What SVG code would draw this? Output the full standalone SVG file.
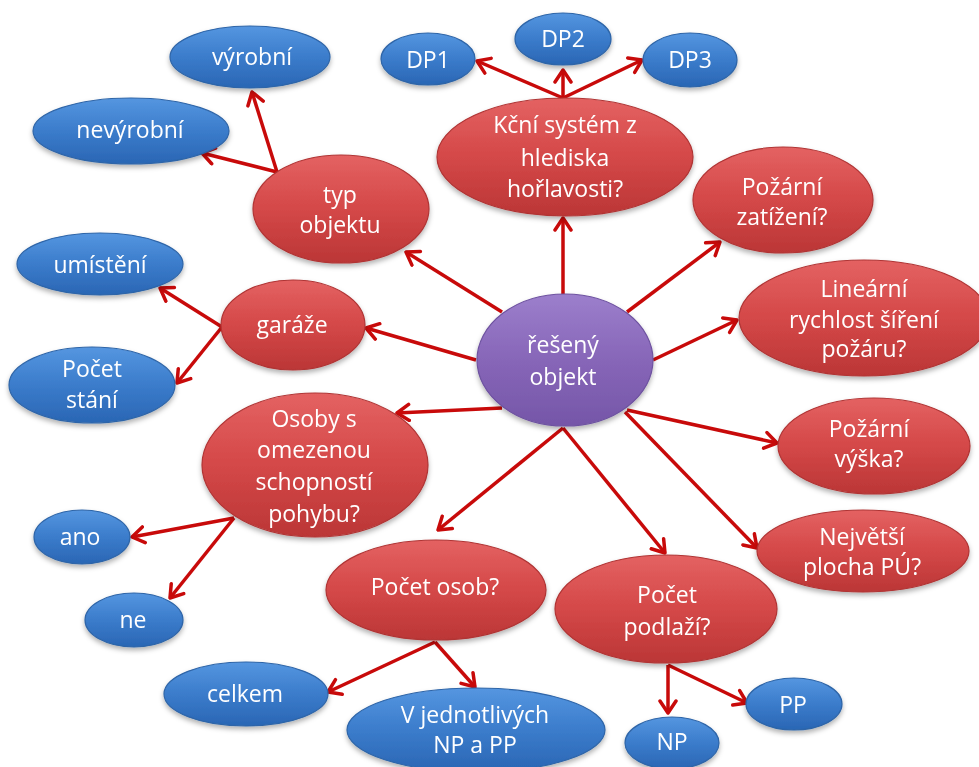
<svg xmlns="http://www.w3.org/2000/svg" width="979" height="767" viewBox="0 0 979 767">
<style>
text{font-family:"Open Sans","Noto Sans","Liberation Sans",sans-serif;font-size:23px;fill:#fff;text-anchor:middle}
.red{fill:url(#gRed);stroke:#b03434;stroke-width:1.2}
.blue{fill:url(#gBlue);stroke:#2e65a8;stroke-width:1.2}
.purple{fill:url(#gPurple);stroke:#6e52a0;stroke-width:1.2}
.n{filter:url(#sh)}
#connectors line{stroke:#c80a0a;stroke-width:3.5;fill:none;marker-end:url(#ah)}
</style>
<defs>
<linearGradient id="gRed" x1="0" y1="0" x2="0" y2="1">
<stop offset="0" stop-color="#e46262"/><stop offset="0.5" stop-color="#d44848"/><stop offset="1" stop-color="#bb3636"/>
</linearGradient>
<linearGradient id="gBlue" x1="0" y1="0" x2="0" y2="1">
<stop offset="0" stop-color="#5596e0"/><stop offset="0.5" stop-color="#3b7ccb"/><stop offset="1" stop-color="#2a66b4"/>
</linearGradient>
<linearGradient id="gPurple" x1="0" y1="0" x2="0" y2="1">
<stop offset="0" stop-color="#9c7fcc"/><stop offset="0.5" stop-color="#8766b8"/><stop offset="1" stop-color="#7556a8"/>
</linearGradient>
<filter id="sh" x="-20%" y="-20%" width="140%" height="150%">
<feDropShadow dx="0" dy="3" stdDeviation="2.5" flood-color="#000" flood-opacity="0.3"/>
</filter>
<marker id="ah" viewBox="0 0 16 20" refX="14" refY="10" markerWidth="16" markerHeight="20" markerUnits="userSpaceOnUse" orient="auto">
<path d="M2,2 L14,10 L2,18" fill="none" stroke="#c80a0a" stroke-width="3.5" stroke-linecap="round" stroke-linejoin="round"/>
</marker>
</defs>
<rect width="979" height="767" fill="#fff"/>
<g id="connectors">
<line x1="502" y1="312" x2="406" y2="252"/>
<line x1="563" y1="294" x2="563" y2="218"/>
<line x1="627" y1="312" x2="720" y2="242"/>
<line x1="653" y1="360" x2="737" y2="320"/>
<line x1="476" y1="360" x2="366" y2="328"/>
<line x1="502" y1="408" x2="397" y2="413"/>
<line x1="627" y1="410" x2="777" y2="443"/>
<line x1="625" y1="412" x2="757" y2="548"/>
<line x1="563" y1="428" x2="665" y2="553"/>
<line x1="563" y1="428" x2="438" y2="530"/>
<line x1="563" y1="98" x2="477" y2="61"/>
<line x1="563" y1="98" x2="563" y2="70"/>
<line x1="563" y1="98" x2="642" y2="60"/>
<line x1="277" y1="172" x2="252" y2="92"/>
<line x1="277" y1="172" x2="202" y2="153"/>
<line x1="222" y1="327" x2="160" y2="288"/>
<line x1="222" y1="327" x2="177" y2="383"/>
<line x1="234" y1="518" x2="132" y2="537"/>
<line x1="234" y1="518" x2="170" y2="598"/>
<line x1="435" y1="642" x2="328" y2="692"/>
<line x1="435" y1="642" x2="475" y2="687"/>
<line x1="668" y1="665" x2="668" y2="713"/>
<line x1="668" y1="665" x2="747" y2="703"/>
</g>
<g id="n-center" class="n"><ellipse class="purple" cx="565" cy="360" rx="88" ry="66"/><text x="563" y="353">řešený</text><text x="563" y="385">objekt</text></g>
<g id="n-kcni" class="n"><ellipse class="red" cx="565" cy="157" rx="128" ry="59"/><text x="565" y="133">Kční systém z</text><text x="565" y="166">hlediska</text><text x="565" y="197">hořlavosti?</text></g>
<g id="n-dp1" class="n"><ellipse class="blue" cx="428" cy="59" rx="47" ry="26"/><text x="428" y="68">DP1</text></g>
<g id="n-dp2" class="n"><ellipse class="blue" cx="563" cy="39" rx="48" ry="26"/><text x="563" y="47">DP2</text></g>
<g id="n-dp3" class="n"><ellipse class="blue" cx="690" cy="60" rx="47" ry="27"/><text x="690" y="68">DP3</text></g>
<g id="n-typ" class="n"><ellipse class="red" cx="341" cy="209" rx="88" ry="54"/><text x="340" y="203">typ</text><text x="340" y="233">objektu</text></g>
<g id="n-vyrobni" class="n"><ellipse class="blue" cx="250" cy="57" rx="80" ry="31"/><text x="252" y="65">výrobní</text></g>
<g id="n-nevyrobni" class="n"><ellipse class="blue" cx="131" cy="131" rx="98" ry="33"/><text x="130" y="138">nevýrobní</text></g>
<g id="n-pz" class="n"><ellipse class="red" cx="783" cy="200" rx="90" ry="53"/><text x="782" y="195">Požární</text><text x="782" y="225">zatížení?</text></g>
<g id="n-lin" class="n"><ellipse class="red" cx="864" cy="318" rx="125" ry="58"/><text x="864" y="297">Lineární</text><text x="864" y="328">rychlost šíření</text><text x="864" y="357">požáru?</text></g>
<g id="n-garaze" class="n"><ellipse class="red" cx="293" cy="325" rx="72" ry="45"/><text x="292" y="333">garáže</text></g>
<g id="n-umisteni" class="n"><ellipse class="blue" cx="100" cy="264" rx="83" ry="31"/><text x="100" y="273">umístění</text></g>
<g id="n-stani" class="n"><ellipse class="blue" cx="92" cy="385" rx="83" ry="38"/><text x="92" y="377">Počet</text><text x="92" y="408">stání</text></g>
<g id="n-osoby" class="n"><ellipse class="red" cx="315" cy="465" rx="113" ry="72"/><text x="314" y="427">Osoby s</text><text x="314" y="458">omezenou</text><text x="314" y="490">schopností</text><text x="314" y="522">pohybu?</text></g>
<g id="n-ano" class="n"><ellipse class="blue" cx="82" cy="537" rx="48" ry="27"/><text x="80" y="545">ano</text></g>
<g id="n-ne" class="n"><ellipse class="blue" cx="134" cy="620" rx="49" ry="27"/><text x="133" y="628">ne</text></g>
<g id="n-pv" class="n"><ellipse class="red" cx="874" cy="446" rx="96" ry="48"/><text x="869" y="437">Požární</text><text x="869" y="467">výška?</text></g>
<g id="n-nejvetsi" class="n"><ellipse class="red" cx="863" cy="551" rx="106" ry="41"/><text x="862" y="545">Největší</text><text x="862" y="575">plocha PÚ?</text></g>
<g id="n-osob" class="n"><ellipse class="red" cx="436" cy="590" rx="110" ry="50"/><text x="435" y="595">Počet osob?</text></g>
<g id="n-podlazi" class="n"><ellipse class="red" cx="666" cy="609" rx="111" ry="54"/><text x="667" y="603">Počet</text><text x="667" y="635">podlaží?</text></g>
<g id="n-celkem" class="n"><ellipse class="blue" cx="246" cy="694" rx="82" ry="32"/><text x="245" y="702">celkem</text></g>
<g id="n-vjedn" class="n"><ellipse class="blue" cx="476" cy="730" rx="129" ry="42"/><text x="475" y="723">V jednotlivých</text><text x="475" y="753">NP a PP</text></g>
<g id="n-np" class="n"><ellipse class="blue" cx="672" cy="743" rx="47" ry="26"/><text x="672" y="750">NP</text></g>
<g id="n-pp" class="n"><ellipse class="blue" cx="794" cy="704" rx="48" ry="26"/><text x="793" y="713">PP</text></g>
</svg>
